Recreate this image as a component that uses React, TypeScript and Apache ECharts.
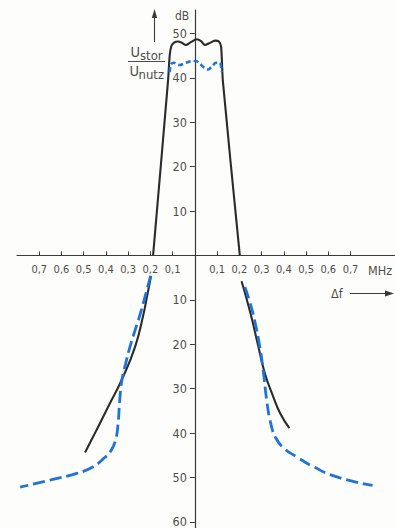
import React, { useEffect, useRef } from "react";
import * as echarts from "echarts";

// Frequency offset Δf in MHz, level in dB (positive = above axis, negative = below)
const solidPassband: [number, number][] = [
  [-0.188, 0], [-0.121, 39.2], [-0.113, 45.2], [-0.105, 47.3], [-0.092, 48.0],
  [-0.076, 48.2], [-0.058, 47.9], [-0.04, 47.4], [-0.02, 48.0], [0.008, 48.7],
  [0.028, 48.3], [0.045, 47.4], [0.068, 47.9], [0.09, 48.4], [0.108, 48.2],
  [0.118, 47.0], [0.126, 39.2], [0.202, 0],
];
const solidLowerLeft: [number, number][] = [
  [-0.197, -4.6], [-0.214, -8.9], [-0.232, -13.4], [-0.269, -20.6],
  [-0.329, -28.0], [-0.386, -33.7], [-0.442, -39.3], [-0.494, -44.4],
];
const solidLowerRight: [number, number][] = [
  [0.21, -5.8], [0.25, -13.0], [0.283, -20.0], [0.315, -26.6],
  [0.35, -31.5], [0.384, -35.6], [0.425, -38.9],
];
const dashedPassband: [number, number][] = [
  [-0.113, 41.3], [-0.108, 43.0], [-0.095, 43.4], [-0.07, 42.9], [-0.04, 43.4],
  [-0.01, 43.8], [0.005, 43.8], [0.022, 43.2], [0.045, 42.2], [0.06, 41.9],
  [0.078, 42.7], [0.095, 43.4], [0.112, 43.4], [0.121, 41.3],
];
const dashedLowerLeft: [number, number][] = [
  [-0.199, -4.6], [-0.222, -8.9], [-0.247, -13.4], [-0.27, -17.0],
  [-0.292, -20.6], [-0.313, -24.7], [-0.328, -28.0], [-0.338, -32.6],
  [-0.346, -38.2], [-0.358, -41.8], [-0.38, -44.2], [-0.412, -45.8],
  [-0.457, -47.6], [-0.531, -49.1], [-0.652, -50.6], [-0.786, -52.2],
];
const dashedLowerRight: [number, number][] = [
  [0.225, -7.1], [0.247, -10.5], [0.268, -14.5], [0.292, -20.6], [0.309, -26.6],
  [0.323, -32.6], [0.342, -38.0], [0.366, -41.3], [0.402, -43.5], [0.459, -45.4],
  [0.533, -47.6], [0.639, -49.9], [0.799, -51.8],
];

const xTicks = [-0.7, -0.6, -0.5, -0.4, -0.3, -0.2, -0.1, 0.1, 0.2, 0.3, 0.4, 0.5, 0.6, 0.7];
const yTicks = [-60, -50, -40, -30, -20, -10, 10, 20, 30, 40, 50];

const X_MIN = -0.8;
const X_MAX = 0.9;
const Y_MIN = -61.4;
const Y_MAX = 55.3;

const FONT = "'Liberation Sans Narrow', 'DejaVu Sans Condensed', 'Liberation Sans', sans-serif";
const TEXT = "#4d4d4d";
const AXIS = "#3a3a3a";
const BLACK = "#2b2b2b";
const BLUE = "#1f74d6";

export default function App() {
  const ref = useRef<HTMLDivElement>(null);
  useEffect(() => {
    if (!ref.current) return;
    const chart = echarts.init(ref.current, undefined, { renderer: "svg" });
    const W = 395, H = 528;
    const gLeft = 17, gRight = 0, gTop = 10, gBottom = 0;
    const gw = W - gLeft - gRight;
    const gh = H - gTop - gBottom;
    // place the axes through the origin (labels follow the lines)
    const zeroX = gLeft + ((0 - X_MIN) / (X_MAX - X_MIN)) * gw;
    const zeroY = gTop + ((Y_MAX - 0) / (Y_MAX - Y_MIN)) * gh;
    const yOffset = -(zeroX - gLeft);
    const xOffset = -(H - gBottom - zeroY);

    const solid = (data: [number, number][], smooth: number) => ({
      type: "line",
      data,
      showSymbol: false,
      smooth,
      lineStyle: { color: BLACK, width: 2.1 },
      z: 3,
    });
    const dashed = (data: [number, number][], dash: number[], smooth: number, width: number) => ({
      type: "line",
      data,
      showSymbol: false,
      smooth,
      lineStyle: { color: BLUE, width, type: dash },
      z: 4,
    });
    chart.setOption({
      animation: false,
      backgroundColor: "#fdfdfb",
      textStyle: { fontFamily: FONT },
      grid: { left: gLeft, right: gRight, top: gTop, bottom: gBottom, containLabel: false, outerBoundsMode: "none" },
      xAxis: {
        type: "value",
        min: X_MIN,
        max: X_MAX,
        position: "bottom",
        offset: xOffset,
        axisLine: { onZero: false, lineStyle: { color: AXIS, width: 1.2 } },
        axisTick: { show: true, inside: true, length: 4, customValues: xTicks, lineStyle: { color: AXIS } },
        axisLabel: {
          customValues: xTicks,
          margin: 9,
          color: TEXT,
          fontSize: 11,
          fontFamily: FONT,
          formatter: (v: number) => Math.abs(v).toFixed(1).replace(".", ","),
        },
        splitLine: { show: false },
      },
      yAxis: {
        type: "value",
        min: Y_MIN,
        max: Y_MAX,
        position: "left",
        offset: yOffset,
        axisLine: { onZero: false, lineStyle: { color: AXIS, width: 1.2 } },
        axisTick: { show: true, length: 5, customValues: yTicks, lineStyle: { color: AXIS } },
        axisLabel: {
          customValues: yTicks,
          margin: 8,
          color: TEXT,
          fontSize: 12.5,
          fontFamily: FONT,
          formatter: (v: number) => String(Math.abs(v)),
        },
        splitLine: { show: false },
      },
      series: [
        solid(solidPassband, 0.25),
        solid(solidLowerLeft, 0.5),
        solid(solidLowerRight, 0.5),
        dashed(dashedPassband, [5, 3], 0.3, 2.6),
        dashed(dashedLowerLeft, [12, 5], 0.5, 2.8),
        dashed(dashedLowerRight, [12, 5], 0.5, 2.8),
      ],
      graphic: [
        { type: "text", x: 175, y: 16, style: { text: "dB", fontSize: 12, fill: TEXT, fontFamily: FONT, verticalAlign: "middle" } },
        { type: "line", shape: { x1: 154.5, y1: 42, x2: 154.5, y2: 16 }, style: { stroke: AXIS, lineWidth: 1.1 } },
        { type: "polygon", shape: { points: [[154.5, 9], [151.8, 18], [157.2, 18]] }, style: { fill: AXIS } },
        { type: "text", x: 130.5, y: 52, style: { text: "U", fontSize: 14.5, fill: TEXT, fontFamily: FONT, verticalAlign: "middle" } },
        { type: "text", x: 140, y: 55, style: { text: "stor", fontSize: 13, fill: TEXT, fontFamily: FONT, verticalAlign: "middle" } },
        { type: "line", shape: { x1: 128, y1: 61.5, x2: 165, y2: 61.5 }, style: { stroke: TEXT, lineWidth: 1 } },
        { type: "text", x: 129.5, y: 71, style: { text: "U", fontSize: 14.5, fill: TEXT, fontFamily: FONT, verticalAlign: "middle" } },
        { type: "text", x: 138.5, y: 74, style: { text: "nutz", fontSize: 13, fill: TEXT, fontFamily: FONT, verticalAlign: "middle" } },
        { type: "text", x: 368, y: 270, style: { text: "MHz", fontSize: 12.5, fill: TEXT, fontFamily: FONT, verticalAlign: "middle" } },
        { type: "text", x: 331, y: 293, style: { text: "Δf", fontSize: 12.5, fill: TEXT, fontFamily: FONT, verticalAlign: "middle" } },
        { type: "line", shape: { x1: 350, y1: 293.5, x2: 386, y2: 293.5 }, style: { stroke: AXIS, lineWidth: 1 } },
        { type: "polygon", shape: { points: [[394, 293.5], [385, 290.5], [385, 296.5]] }, style: { fill: AXIS } },
      ],
    });
    return () => chart.dispose();
  }, []);
  return (
    <div
      ref={ref}
      style={{ position: "fixed", left: 0, top: 0, width: 395, height: 528 }}
    />
  );
}
